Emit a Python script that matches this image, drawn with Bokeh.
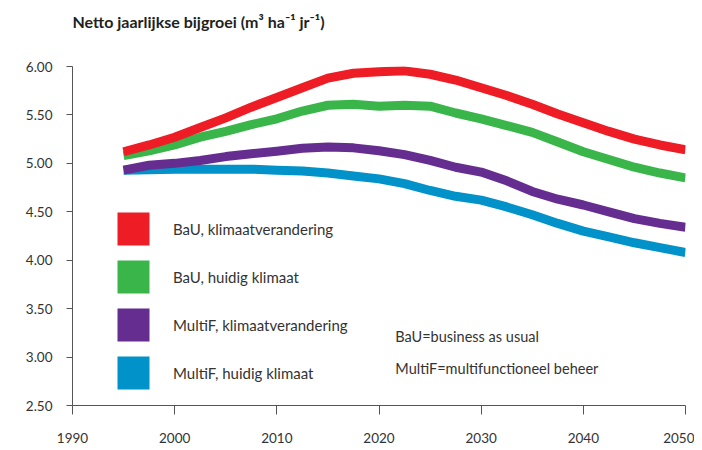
from bokeh.plotting import figure
from bokeh.models import Range1d, FixedTicker, Legend, LegendItem, Label, PrintfTickFormatter, Title
from bokeh.embed import file_html
from bokeh.resources import INLINE

years = [1995, 1997.5, 2000, 2002.5, 2005, 2007.5, 2010, 2012.5, 2015, 2017.5, 2020, 2022.5,
         2025, 2027.5, 2030, 2032.5, 2035, 2037.5, 2040, 2042.5, 2045, 2047.5, 2050]
bau_klimaat = [5.12, 5.19, 5.27, 5.37, 5.47, 5.58, 5.68, 5.78, 5.88, 5.93, 5.945, 5.955,
               5.92, 5.86, 5.78, 5.70, 5.61, 5.51, 5.42, 5.33, 5.25, 5.19, 5.14]
bau_huidig = [5.08, 5.13, 5.19, 5.27, 5.33, 5.40, 5.46, 5.54, 5.60, 5.61, 5.59, 5.60,
              5.59, 5.52, 5.46, 5.39, 5.32, 5.22, 5.12, 5.04, 4.96, 4.90, 4.85]
multif_klimaat = [4.93, 4.98, 5.00, 5.03, 5.07, 5.10, 5.125, 5.155, 5.17, 5.16, 5.13, 5.09,
                  5.03, 4.96, 4.91, 4.82, 4.71, 4.63, 4.57, 4.50, 4.43, 4.38, 4.34]
multif_huidig = [4.93, 4.935, 4.94, 4.94, 4.94, 4.94, 4.93, 4.92, 4.90, 4.87, 4.84, 4.79,
                 4.72, 4.66, 4.62, 4.55, 4.47, 4.38, 4.30, 4.24, 4.18, 4.13, 4.08]

series_labels = ["BaU, klimaatverandering", "BaU, huidig klimaat",
                 "MultiF, klimaatverandering", "MultiF, huidig klimaat"]
series_values = [bau_klimaat, bau_huidig, multif_klimaat, multif_huidig]
colors = ["#ee1c25", "#39b54a", "#662d91", "#0092c8"]

x_ticks = [1990, 2000, 2010, 2020, 2030, 2040, 2050]
y_ticks = [2.5, 3.0, 3.5, 4.0, 4.5, 5.0, 5.5, 6.0]

title_text = "Netto jaarlijkse bijgroei (m\u00b3 ha\u207b\u00b9 jr\u207b\u00b9)"
note1 = "BaU=business as usual"
note2 = "MultiF=multifunctioneel beheer"

FONT = "Lato"
TXT = "#333333"

p = figure(width=694, height=445, output_backend="svg", toolbar_location=None,
           x_range=Range1d(1990, 2050), y_range=Range1d(2.5, 6.0),
           min_border_left=72, min_border_right=9, min_border_top=66, min_border_bottom=38)
p.outline_line_color = None
p.grid.visible = False
p.background_fill_color = "white"

# spacer between title and frame, then the title itself (farther from frame)
p.add_layout(Title(text=" ", text_font_size="17px"), "above")
p.add_layout(Title(text=title_text, text_font=FONT, text_font_size="16px",
                   text_font_style="bold", text_color="#231f20", align="left"), "above")

for ax in (p.xaxis[0], p.yaxis[0]):
    ax.axis_line_color = "#555555"
    ax.major_tick_line_color = "#555555"
    ax.minor_tick_line_color = None
    ax.major_tick_in = 0
    ax.major_label_text_font = FONT
    ax.major_label_text_font_size = "13.5px"
    ax.major_label_text_color = TXT

p.xaxis[0].ticker = FixedTicker(ticks=x_ticks)
p.xaxis[0].major_tick_out = 9
p.xaxis[0].major_label_standoff = 18
p.yaxis[0].ticker = FixedTicker(ticks=y_ticks)
p.yaxis[0].formatter = PrintfTickFormatter(format="%.2f")
p.yaxis[0].major_tick_out = 6
p.yaxis[0].major_label_standoff = 14

# draw lines (bottom series first)
for vals, col in reversed(list(zip(series_values, colors))):
    p.line(years, vals, line_color=col, line_width=9, line_cap="butt", line_join="round")

# legend with square swatches (renderers hold one empty NaN row only)
nan = float("nan")
items = []
for lab, col in zip(series_labels, colors):
    r = p.quad(left=[nan], right=[nan], top=[nan], bottom=[nan], fill_color=col, line_color=None)
    items.append(LegendItem(label=lab, renderers=[r]))
legend = Legend(items=items, location=(41, 12), orientation="vertical",
                glyph_width=40, glyph_height=41, spacing=7, padding=0, margin=0,
                label_standoff=20, label_text_font=FONT, label_text_font_size="15px",
                label_text_color=TXT, border_line_color=None, background_fill_alpha=0)
p.add_layout(legend)

p.add_layout(Label(x=2021.6, y=3.215, text=note1, text_font=FONT, text_font_size="14.5px",
                   text_color=TXT, text_baseline="middle"))
p.add_layout(Label(x=2021.6, y=2.887, text=note2, text_font=FONT, text_font_size="14.5px",
                   text_color=TXT, text_baseline="middle"))

open("out.html", "w").write(file_html(p, INLINE))
